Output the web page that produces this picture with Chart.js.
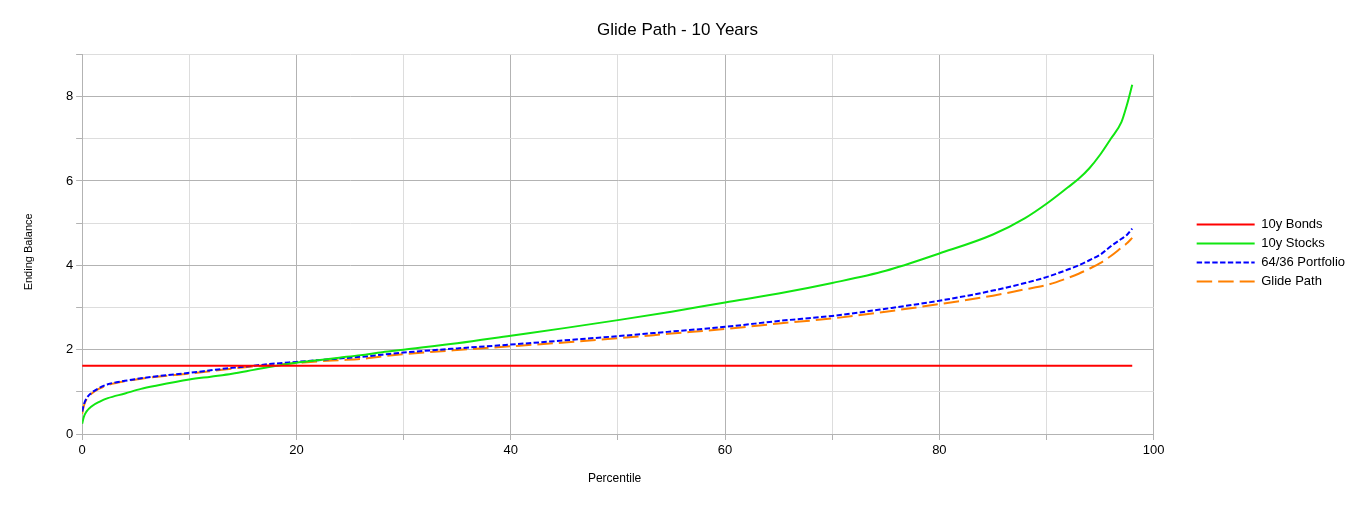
<!DOCTYPE html>
<html>
<head>
<meta charset="utf-8">
<script src="https://cdn.jsdelivr.net/npm/chart.js@4"></script>
<style>
  html, body { margin: 0; padding: 0; background: #fff; }
  #wrap { width: 1357px; height: 506px; }
</style>
</head>
<body>
<div id="wrap"><canvas id="myChart"></canvas></div>
<script>
// values
var percentiles = [0, 0.15, 0.4, 0.9, 1.65, 2.4, 4, 5.5, 7, 10, 12, 14, 16, 18, 20, 22, 24, 26, 28, 30,
                   35, 40, 45, 50, 55, 60, 65, 70, 75, 80, 85, 88, 90, 92, 93, 94, 95, 96, 97, 97.5, 98];
var bonds10y = [1.62, 1.62, 1.62, 1.62, 1.62, 1.62, 1.62, 1.62, 1.62, 1.62, 1.62, 1.62, 1.62, 1.62, 1.62, 1.62, 1.62, 1.62, 1.62, 1.62,
                1.62, 1.62, 1.62, 1.62, 1.62, 1.62, 1.62, 1.62, 1.62, 1.62, 1.62, 1.62, 1.62, 1.62, 1.62, 1.62, 1.62, 1.62, 1.62, 1.62, 1.62];
var stocks10y = [0.24, 0.40, 0.53, 0.66, 0.77, 0.85, 0.96, 1.07, 1.15, 1.29, 1.36, 1.43, 1.52, 1.61, 1.69, 1.75, 1.81, 1.87, 1.94, 2.00,
                 2.15, 2.33, 2.51, 2.70, 2.90, 3.12, 3.33, 3.58, 3.87, 4.28, 4.73, 5.12, 5.46, 5.85, 6.05, 6.30, 6.62, 7.00, 7.40, 7.80, 8.28];
var portfolio6436 = [0.53, 0.69, 0.84, 0.98, 1.10, 1.18, 1.26, 1.32, 1.37, 1.45, 1.51, 1.57, 1.62, 1.67, 1.71, 1.75, 1.79, 1.83, 1.88, 1.93,
                     2.03, 2.12, 2.22, 2.32, 2.43, 2.54, 2.68, 2.80, 2.97, 3.16, 3.40, 3.58, 3.72, 3.90, 4.00, 4.12, 4.25, 4.45, 4.63, 4.72, 4.87];
var glidePath = [0.48, 0.66, 0.82, 0.96, 1.08, 1.16, 1.25, 1.31, 1.36, 1.43, 1.49, 1.55, 1.60, 1.64, 1.68, 1.72, 1.75, 1.78, 1.84, 1.89,
                 1.99, 2.08, 2.17, 2.27, 2.38, 2.49, 2.62, 2.74, 2.90, 3.08, 3.28, 3.43, 3.53, 3.70, 3.80, 3.92, 4.05, 4.22, 4.42, 4.52, 4.65];
var xTickLabels = [0, 20, 40, 60, 80, 100];
var yTickLabels = [0, 2, 4, 6, 8];

function points(values) {
    return values.map(function (v, i) { return { x: percentiles[i], y: v }; });
}

function series(label, values, color, dash) {
    return {
        label: label,
        data: points(values),
        borderColor: color,
        backgroundColor: color,
        borderWidth: 2,
        borderDash: dash,
        pointRadius: 0,
        pointStyle: 'line',
        cubicInterpolationMode: 'monotone',
        fill: false
    };
}

Chart.defaults.font.family = '"Liberation Sans", Arial, sans-serif';
Chart.defaults.color = '#000';

var defaultLabels = Chart.defaults.plugins.legend.labels.generateLabels;

var ctx = document.getElementById('myChart').getContext('2d');
var myChart = new Chart(ctx, {
    type: 'line',
    data: {
        datasets: [
            series('10y Bonds', bonds10y, '#ff0000', []),
            series('10y Stocks', stocks10y, '#11e611', []),
            series('64/36 Portfolio', portfolio6436, '#0000ff', [5.4, 2.4]),
            series('Glide Path', glidePath, '#ff8000', [15.5, 6])
        ]
    },
    options: {
        responsive: true,
        maintainAspectRatio: false,
        animation: false,
        layout: { padding: { left: 0, right: 2, top: 0, bottom: 0 } },
        plugins: {
            title: {
                display: true,
                text: 'Glide Path - 10 Years',
                font: { size: 17, weight: 'normal' },
                padding: { top: 20, bottom: 14 }
            },
            legend: {
                position: 'right',
                labels: {
                    usePointStyle: true,
                    pointStyle: 'line',
                    pointStyleWidth: 58,
                    padding: 6,
                    font: { size: 13 },
                    generateLabels: function (chart) {
                        // point style labels drop the dash, put it back
                        return defaultLabels(chart).map(function (item) {
                            var ds = chart.data.datasets[item.datasetIndex];
                            item.lineDash = ds.borderDash;
                            item.lineWidth = ds.borderWidth;
                            item.strokeStyle = ds.borderColor;
                            return item;
                        });
                    }
                }
            },
            tooltip: { enabled: false }
        },
        scales: {
            x: {
                type: 'linear',
                min: 0,
                max: 100,
                ticks: {
                    stepSize: 10,
                    font: { size: 13 },
                    callback: function (v) { return xTickLabels.indexOf(v) >= 0 ? v : ''; }
                },
                grid: {
                    color: function (c) { return c.tick && c.tick.value % 20 === 0 ? '#b3b3b3' : '#dddddd'; },
                    tickColor: '#b3b3b3',
                    tickLength: 6
                },
                border: { color: '#b3b3b3' },
                title: {
                    display: true,
                    text: 'Percentile  ',
                    font: { size: 12 },
                    padding: { top: 10.2, bottom: 19.8 }
                }
            },
            y: {
                min: 0,
                max: 9,
                ticks: {
                    stepSize: 1,
                    font: { size: 13 },
                    callback: function (v) { return yTickLabels.indexOf(v) >= 0 ? v : ''; }
                },
                grid: {
                    color: function (c) { return c.tick && c.tick.value % 2 === 0 ? '#b3b3b3' : '#dddddd'; },
                    tickColor: '#b3b3b3',
                    tickLength: 6
                },
                border: { color: '#b3b3b3' },
                title: {
                    display: true,
                    text: 'Ending Balance     ',
                    font: { size: 11 },
                    padding: { top: 22, bottom: 27.7 }
                }
            },
            gap: {
                type: 'linear',
                position: 'right',
                display: true,
                grid: { display: false, drawTicks: false },
                border: { display: false },
                ticks: { display: false },
                afterFit: function (scale) { scale.width = 37; }
            }
        }
    }
});
</script>
</body>
</html>
